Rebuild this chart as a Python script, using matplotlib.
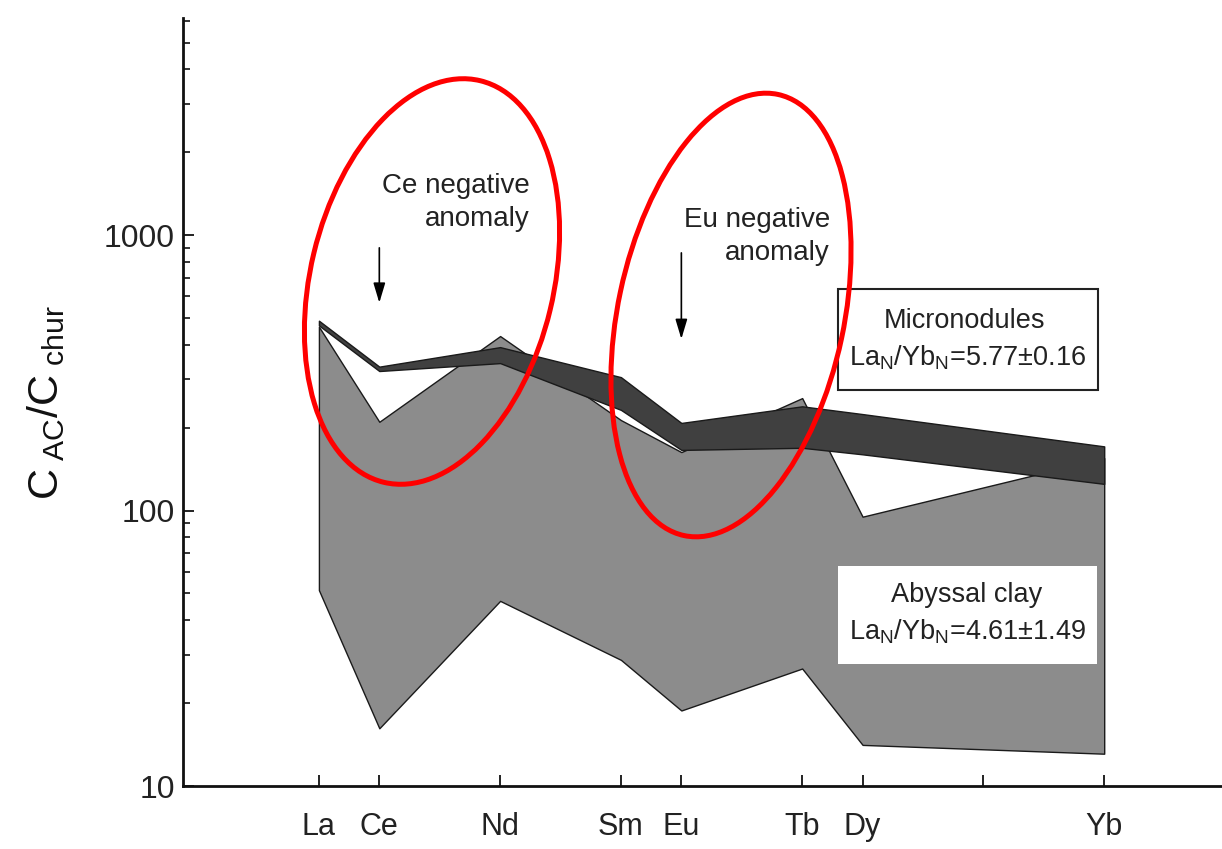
import matplotlib
matplotlib.use("Agg")
import matplotlib.pyplot as plt
from matplotlib.patches import Ellipse, Rectangle
from matplotlib import font_manager

# ---------------- data ----------------
elements = ["La", "Ce", "Nd", "Sm", "Eu", "Tb", "Dy", "Yb"]
atomic_no = [57, 58, 60, 62, 63, 65, 66, 70]

abyssal_upper = [465, 210, 430, 213, 163, 256, 95, 155]
abyssal_lower = [51.4, 16.2, 47.0, 28.7, 18.8, 26.7, 14.1, 13.1]

micro_upper = [489, 333, 392, 305, 208, 239, 224, 171]
micro_lower = [470, 321, 343, 232, 166, 169, 160, 125]

xtick_pos = [57, 58, 60, 62, 63, 65, 66, 68, 70]
xtick_labels = ["La", "Ce", "Nd", "Sm", "Eu", "Tb", "Dy", "", "Yb"]
ytick_pos = [10, 100, 1000]
ytick_labels = ["10", "100", "1000"]

micro_title = "Micronodules"
micro_ratio = r"La$_{\mathregular{N}}$/Yb$_{\mathregular{N}}$=5.77±0.16"
clay_title = "Abyssal clay"
clay_ratio = r"La$_{\mathregular{N}}$/Yb$_{\mathregular{N}}$=4.61±1.49"

# ---------------- fonts ----------------
names = {f.name for f in font_manager.fontManager.ttflist}
base = "Liberation Sans" if "Liberation Sans" in names else "DejaVu Sans"
plt.rcParams["font.family"] = [base, "DejaVu Sans"]
plt.rcParams["mathtext.fontset"] = "custom"
plt.rcParams["mathtext.rm"] = base
plt.rcParams["mathtext.it"] = base + ":italic"
plt.rcParams["mathtext.bf"] = base + ":bold"

W, H = 1222, 849
fig = plt.figure(figsize=(W / 100, H / 100), dpi=100)
fig.patch.set_facecolor("white")

ax = fig.add_axes([183 / W, (H - 786) / H, (W - 183) / W, (786 - 18) / H])
ax.set_yscale("log")
ax.set_xlim(54.75, 71.95)
ax.set_ylim(10, 6140)

ax.fill_between(atomic_no, abyssal_lower, abyssal_upper, facecolor="#8c8c8c",
                edgecolor="#1a1a1a", linewidth=1.0, zorder=2)
ax.fill_between(atomic_no, micro_lower, micro_upper, facecolor="#404040",
                edgecolor="#1a1a1a", linewidth=1.0, zorder=3)

for s in ["top", "right"]:
    ax.spines[s].set_visible(False)
for s in ["left", "bottom"]:
    ax.spines[s].set_linewidth(2.0)
    ax.spines[s].set_color("#111111")

ax.set_xticks(xtick_pos)
ax.set_xticklabels(xtick_labels, fontsize=22)
ax.xaxis.set_minor_locator(matplotlib.ticker.NullLocator())
ax.tick_params(axis="x", direction="in", length=8, width=1.3, pad=19, colors="#111111")

ax.set_yticks(ytick_pos)
ax.set_yticklabels(ytick_labels, fontsize=23)
ax.yaxis.set_minor_locator(matplotlib.ticker.LogLocator(base=10, subs=range(2, 10)))
ax.yaxis.set_minor_formatter(matplotlib.ticker.NullFormatter())
ax.tick_params(axis="y", which="major", direction="in", length=8, width=1.3, pad=6, colors="#111111")
ax.tick_params(axis="y", which="minor", direction="in", length=5, width=1.1)
for lab in ax.get_xticklabels() + ax.get_yticklabels():
    lab.set_color("#222222")

ax.set_ylabel(r"$\mathregular{C_{\ AC}/C_{\ chur}}$", fontsize=31, color="#111111")
ax.yaxis.set_label_coords(-0.112, 0.499)

# arrows to the anomalies
ax.annotate("", xy=(58, 555), xytext=(58, 920),
            arrowprops=dict(arrowstyle="-|>,head_length=0.6,head_width=0.18",
                            color="black", lw=1.2, mutation_scale=20), zorder=6)
ax.annotate("", xy=(63, 410), xytext=(63, 882),
            arrowprops=dict(arrowstyle="-|>,head_length=0.6,head_width=0.18",
                            color="black", lw=1.2, mutation_scale=20), zorder=6)

# ---------------- overlay in pixel coords ----------------
ov = fig.add_axes([0, 0, 1, 1], zorder=10)
ov.set_xlim(0, W)
ov.set_ylim(H, 0)
ov.axis("off")
ov.patch.set_alpha(0)

ov.text(530, 202, "Ce negative\nanomaly", ha="right", va="center", fontsize=20,
        multialignment="right", linespacing=1.35, color="#222222")
ov.text(830, 236, "Eu negative\nanomaly", ha="right", va="center", fontsize=20,
        multialignment="right", linespacing=1.35, color="#222222")

ov.add_patch(Rectangle((838, 289), 260, 101, facecolor="white", edgecolor="#222222", lw=1.5))
ov.text(964, 321, micro_title, ha="center", va="center", fontsize=19.5, color="#222222")
ov.text(968, 358, micro_ratio, ha="center", va="center", fontsize=19.5, color="#222222")

ov.add_patch(Rectangle((838, 566), 259, 98, facecolor="white", edgecolor="none"))
ov.text(967, 595, clay_title, ha="center", va="center", fontsize=19.5, color="#222222")
ov.text(968, 632, clay_ratio, ha="center", va="center", fontsize=19.5, color="#222222")

ov.add_patch(Ellipse((432, 281.5), 243, 413, angle=13.5, facecolor="none",
                     edgecolor="#ff0000", lw=3.6))
ov.add_patch(Ellipse((731, 315), 226, 451, angle=12, facecolor="none",
                     edgecolor="#ff0000", lw=3.6))

fig.savefig("out.png", dpi=100)
